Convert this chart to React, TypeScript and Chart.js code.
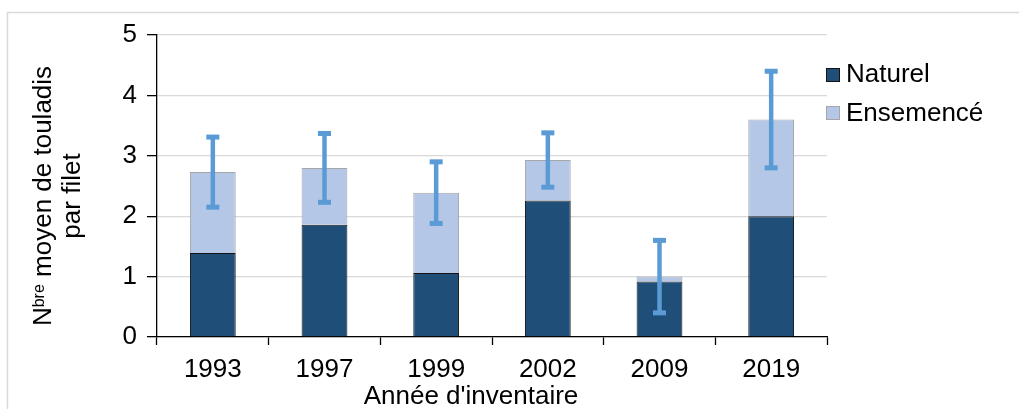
import React, { useEffect, useRef } from "react";
import { Chart, registerables } from "chart.js";

Chart.register(...registerables);

// Survey years and mean catch per net, split by origin
const years = ["1993", "1997", "1999", "2002", "2009", "2019"];
const naturel = [1.39, 1.86, 1.06, 2.26, 0.92, 2.0];
const ensemence = [1.34, 0.94, 1.33, 0.67, 0.08, 1.6];
// Half-width of the error bar around the stacked total
const errorHalf = [0.58, 0.57, 0.51, 0.45, 0.6, 0.8];

const seriesLabels = ["Naturel", "Ensemencé"];
const seriesFill = ["#1F4E79", "#B4C7E7"];
const seriesBorder = ["#141414", "#A6A6A6"];

const yMin = 0;
const yMax = 5;
const yStep = 1;

const yTitleBase = "N";
const yTitleSup = "bre";
const yTitleRest = " moyen de touladis";
const yTitleLine2 = "par filet";
const xTitle = "Année d'inventaire";

const FONT = "'Liberation Sans', Arial, Helvetica, sans-serif";
const FS = 26;

const errorBarPlugin = {
  id: "errorBars",
  afterDatasetsDraw(chart: any) {
    const { ctx } = chart;
    const y = chart.scales.y;
    const meta = chart.getDatasetMeta(1);
    ctx.save();
    ctx.strokeStyle = "#5B9BD5";
    ctx.fillStyle = "#5B9BD5";
    ctx.lineWidth = 4.5;
    meta.data.forEach((bar: any, i: number) => {
      const total = naturel[i] + ensemence[i];
      const top = y.getPixelForValue(total + errorHalf[i]);
      const bot = y.getPixelForValue(total - errorHalf[i]);
      const x = bar.x;
      ctx.beginPath();
      ctx.moveTo(x, top);
      ctx.lineTo(x, bot);
      ctx.stroke();
      ctx.fillRect(x - 6.5, top - 2.5, 13, 5);
      ctx.fillRect(x - 6.5, bot - 2.5, 13, 5);
    });
    ctx.restore();
  },
};

const decorPlugin = {
  id: "decor",
  beforeDraw(chart: any) {
    const { ctx, width, height } = chart;
    ctx.save();
    ctx.fillStyle = "#ffffff";
    ctx.fillRect(0, 0, width, height);
    ctx.strokeStyle = "#D9D9D9";
    ctx.lineWidth = 1.5;
    ctx.beginPath();
    ctx.moveTo(7.5, height);
    ctx.lineTo(7.5, 12.5);
    ctx.lineTo(width, 12.5);
    ctx.stroke();
    ctx.restore();
  },
  afterDraw(chart: any) {
    const { ctx } = chart;
    ctx.save();
    ctx.fillStyle = "#000";
    ctx.textBaseline = "alphabetic";

    // Y-axis title, rotated, two centred lines
    ctx.translate(0, 196);
    ctx.rotate(-Math.PI / 2);
    ctx.font = `${FS}px ${FONT}`;
    const wBase = ctx.measureText(yTitleBase).width;
    const wRest = ctx.measureText(yTitleRest).width;
    ctx.font = `16px ${FONT}`;
    const wSup = ctx.measureText(yTitleSup).width;
    let u = -(wBase + wSup + wRest) / 2;
    ctx.textAlign = "left";
    ctx.font = `${FS}px ${FONT}`;
    ctx.fillText(yTitleBase, u, 51);
    u += wBase;
    ctx.font = `16px ${FONT}`;
    ctx.fillText(yTitleSup, u, 44);
    u += wSup;
    ctx.font = `${FS}px ${FONT}`;
    ctx.fillText(yTitleRest, u, 51);
    ctx.textAlign = "center";
    ctx.fillText(yTitleLine2, 0, 80);
    ctx.setTransform(1, 0, 0, 1, 0, 0);

    // X-axis title
    ctx.textAlign = "center";
    ctx.font = `${FS}px ${FONT}`;
    ctx.fillText(xTitle, 471, 404);

    // Legend
    const boxX = 826;
    const boxTops = [68, 106];
    const baselines = [82, 121];
    ctx.textAlign = "left";
    seriesLabels.forEach((label, i) => {
      ctx.fillStyle = seriesFill[i];
      ctx.fillRect(boxX, boxTops[i], 14, 14);
      ctx.strokeStyle = seriesBorder[i];
      ctx.lineWidth = 1;
      ctx.strokeRect(boxX + 0.5, boxTops[i] + 0.5, 13, 13);
      ctx.fillStyle = "#000";
      ctx.fillText(label, 846, baselines[i]);
    });
    ctx.restore();
  },
};

export default function App() {
  const canvasRef = useRef<HTMLCanvasElement | null>(null);

  useEffect(() => {
    const canvas = canvasRef.current;
    if (!canvas) return;
    const chart = new Chart(canvas, {
      type: "bar",
      data: {
        labels: years,
        datasets: [
          {
            label: seriesLabels[0],
            data: naturel,
            backgroundColor: seriesFill[0],
            borderColor: seriesBorder[0],
            borderWidth: 1,
            barPercentage: 0.41,
            categoryPercentage: 1,
          },
          {
            label: seriesLabels[1],
            data: ensemence,
            backgroundColor: seriesFill[1],
            borderColor: seriesBorder[1],
            borderWidth: 1,
            barPercentage: 0.41,
            categoryPercentage: 1,
          },
        ],
      },
      options: {
        responsive: false,
        animation: false,
        devicePixelRatio: 1,
        layout: { padding: { top: 35, right: 192, left: 0, bottom: 0 } },
        plugins: {
          legend: { display: false },
          tooltip: { enabled: false },
        },
        scales: {
          x: {
            stacked: true,
            offset: true,
            grid: {
              offset: true,
              drawOnChartArea: false,
              drawTicks: true,
              tickLength: 8,
              tickColor: "#000",
              tickWidth: 1.3,
            },
            border: { display: true, color: "#000", width: 1.3 },
            ticks: {
              color: "#000",
              font: { family: FONT, size: FS },
              padding: 9,
              maxRotation: 0,
            },
            afterFit(scale: any) {
              scale.height = 72;
            },
          },
          y: {
            stacked: true,
            min: yMin,
            max: yMax,
            grid: {
              color: "#D9D9D9",
              lineWidth: 1.3,
              drawTicks: true,
              tickLength: 10,
              tickColor: "#000",
              tickWidth: 1.3,
            },
            border: { display: true, color: "#000", width: 1.3 },
            ticks: {
              stepSize: yStep,
              color: "#000",
              font: { family: FONT, size: FS },
              padding: 10,
            },
            afterFit(scale: any) {
              scale.width = 157;
            },
          },
        },
      },
      plugins: [decorPlugin, errorBarPlugin],
    });
    return () => chart.destroy();
  }, []);

  return (
    <div style={{ position: "fixed", left: 0, top: 0, width: 1019, height: 409, background: "#fff" }}>
      <canvas ref={canvasRef} width={1019} height={409} style={{ display: "block" }} />
    </div>
  );
}
